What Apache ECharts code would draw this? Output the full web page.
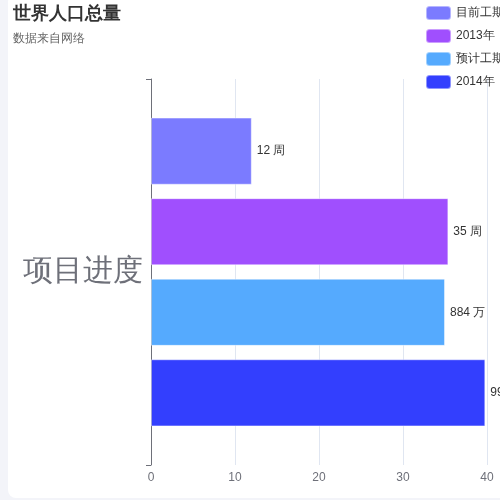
<!DOCTYPE html>
<html>
<head>
<meta charset="utf-8">
<script src="https://cdn.jsdelivr.net/npm/echarts@6/dist/echarts.min.js"></script>
<style>
html,body{margin:0;padding:0;background:#f3f4f9;width:500px;height:500px;overflow:hidden;}
#card{position:absolute;left:8px;top:-6px;width:520px;height:504px;background:#fff;border-radius:8px;}
#chart{position:absolute;left:0;top:0;width:500px;height:500px;}
</style>
</head>
<body>
<div id="card"></div>
<div id="chart"></div>
<script>
var categories = ['项目进度'];
var seriesNames = ['目前工期', '2013年', '预计工期', '2014年'];
var seriesValues = [12, 35.4, 35, 39.8];
var labelTexts = ['12 周', '35 周', '884 万', '995 万'];
var colors = ['#7b7bff', '#a04ffe', '#55aafe', '#333ffe'];
var xTicks = [0, 10, 20, 30, 40];

var chart = echarts.init(document.getElementById('chart'));
var series = seriesNames.map(function (name, i) {
  return {
    name: name,
    type: 'bar',
    barGap: '20%',
    barCategoryGap: '20%',
    data: [seriesValues[i]],
    itemStyle: { color: colors[i], borderColor: 'rgba(255,255,255,0.45)', borderWidth: 1 },
    label: {
      show: true, position: 'right', color: '#333', fontSize: 12, distance: 5,
      formatter: function () { return labelTexts[i]; }
    }
  };
});
chart.setOption({
  animation: false,
  color: colors,
  title: {
    text: '世界人口总量', subtext: '数据来自网络', left: 8, top: 0,
    textStyle: { fontSize: 18, fontWeight: 'bold', color: '#333' },
    subtextStyle: { fontSize: 12, color: '#666' }
  },
  legend: {
    orient: 'vertical', left: 420, top: 0, itemWidth: 25, itemHeight: 14, itemGap: 7,
    textStyle: { fontSize: 12, color: '#333' },
    data: seriesNames
  },
  grid: { left: 151, right: 13, top: 79, bottom: 35, containLabel: false },
  xAxis: {
    type: 'value', min: xTicks[0], max: xTicks[xTicks.length - 1], interval: 10,
    axisLabel: { color: '#6e7079', fontSize: 12, margin: 7 },
    splitLine: { lineStyle: { color: '#e0e6f1' } }
  },
  yAxis: {
    type: 'category', data: categories,
    axisLine: { lineStyle: { color: '#6e7079' } },
    axisTick: { show: true, interval: function (i) { return i === 0; } },
    axisLabel: { fontSize: 30, color: '#6e7079' }
  },
  series: series
});
</script>
</body>
</html>
